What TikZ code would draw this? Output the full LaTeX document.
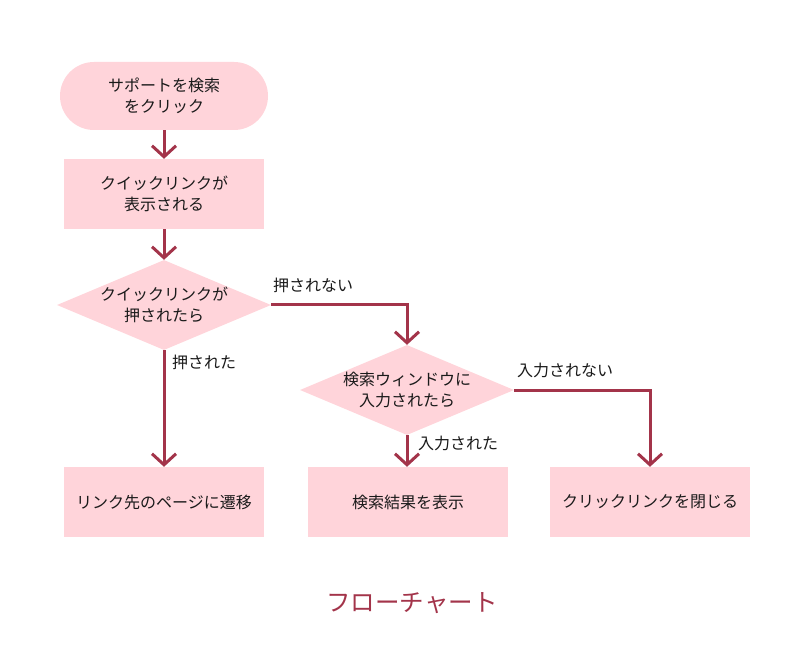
\documentclass[tikz,border=0pt]{standalone}
\usepackage{fontspec}
\setmainfont{Noto Sans CJK JP}
\usetikzlibrary{shapes.geometric,shapes.misc,arrows.meta,positioning}
\definecolor{boxfill}{HTML}{FFD4DA}
\definecolor{lineclr}{HTML}{A3344A}
\definecolor{txt}{HTML}{1A1A1A}
\tikzset{
  x=1pt,y=1pt,
  every node/.style={text=txt,font=\fontsize{16}{21}\selectfont},
  term/.style={draw=none,fill=boxfill,rounded rectangle,minimum width=208pt,minimum height=68pt,align=center,inner sep=0pt},
  procbox/.style={draw=none,fill=boxfill,minimum width=200pt,minimum height=70pt,align=center,inner sep=0pt},
  decide/.style={draw=none,fill=boxfill,diamond,minimum width=214pt,minimum height=90pt,align=center,inner sep=0pt,aspect=2.38},
  conn/.style={draw=lineclr,line width=3pt,-{Straight Barb[length=11pt,width=24pt,line width=3pt]}},
  lbl/.style={anchor=west,inner sep=0pt},
}
\begin{document}
\begin{tikzpicture}
\useasboundingbox (0,0) rectangle (800,670);
\fill[white] (0,0) rectangle (800,670);
\node[term] (start) at (164,574) {サポートを検索\\をクリック};
\node[procbox] (show) at (164,476) {クイックリンクが\\表示される};
\node[decide] (d1) at (164,365) {クイックリンクが\\押されたら};
\node[decide] (d2) at (407,280) {検索ウィンドウに\\入力されたら};
\node[procbox] (link) at (164,168) {リンク先のページに遷移};
\node[procbox] (result) at (408,168) {検索結果を表示};
\node[procbox] (close) at (650,168) {クリックリンクを閉じる};
\coordinate (c1) at (407,365);
\coordinate (c2) at (650,280);
\draw[conn] (start.south) -- (show.north);
\draw[conn] (show.south) -- (d1.north);
\draw[conn] (d1.south) -- (link.north);
\draw[conn] (d1.east) -- (c1) -- (d2.north);
\draw[conn] (d2.south) -- (d2.south |- result.north);
\draw[conn] (d2.east) -- (c2) -- (close.north);
\node[lbl] (l1) at (273,385) {押されない};
\node[lbl] (l2) at (172,308) {押された};
\node[lbl] (l3) at (517,300) {入力されない};
\node[lbl] (l4) at (418,227) {入力された};
\node[text=lineclr,font=\fontsize{24.5}{28}\selectfont] (title) at (412,67) {フローチャート};
\end{tikzpicture}
\end{document}
